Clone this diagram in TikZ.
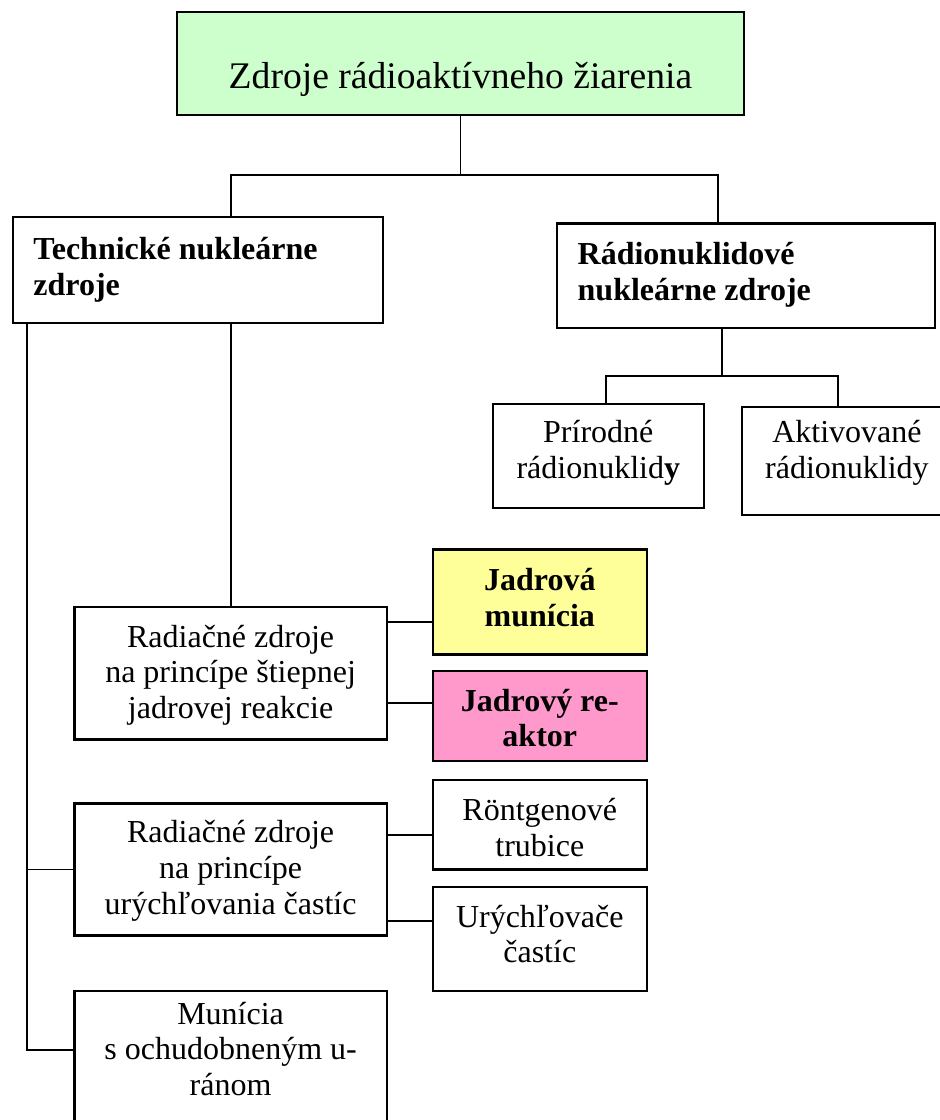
\documentclass[tikz,border=0pt]{standalone}
\usepackage{fontspec}
\setmainfont{Liberation Serif}
\definecolor{mint}{HTML}{CCFFCC}
\definecolor{lemon}{HTML}{FFFF99}
\definecolor{rose}{HTML}{FF99CC}
\tikzset{
  box/.style={draw, line width=1.1pt, anchor=north west, inner xsep=4pt, inner ysep=0pt,
    align=flush center, font=\fontsize{16}{17.8}\selectfont},
  head/.style={box, inner xsep=10.3pt, align=flush left, font=\fontsize{16}{17.8}\selectfont\bfseries},
  link/.style={line width=0.9pt},
}
\begin{document}
\begin{tikzpicture}[x=0.5pt,y=-0.5pt]
	\useasboundingbox (0,0) rectangle (940,1120);
	\clip (0,0) rectangle (940,1120);
	% top level
	\node[box, fill=mint, text width=275.7pt, text height=38.5pt, text depth=13.2pt,
	      font=\fontsize{18.8}{22}\selectfont] (root) at (175.7,10.7) {Zdroje rádioaktívneho žiarenia};
	\node[head, text width=164.4pt, text height=21.15pt, text depth=31.7pt] (tech) at (11.7,216) {Technické nukleárne zdroje};
	\node[head, text width=168.45pt, text height=20.5pt, text depth=31.7pt] (radio) at (556,222.3) {Rádionuklidové\\nukleárne zdroje};
	% radionuclide sources
	\node[box, text width=97.5pt, text height=19.5pt, text depth=32.5pt] (prir) at (491.7,402.7) {Prírodné\\rádionuklid\textbf{y}};
	\node[box, text width=96.8pt, text height=17.85pt, text depth=36.15pt] (aktiv) at (741,406) {Aktivované\\rádionuklidy};
	% technical sources
	\node[box, text width=148.2pt, text height=20pt, text depth=46.15pt] (stiep) at (73.3,606) {Radiačné zdroje\\na princípe štiepnej\\jadrovej reakcie};
	\node[box, fill=lemon, text width=99pt, text height=20.5pt, text depth=32pt, font=\fontsize{16}{17.8}\selectfont\bfseries] (munic) at (431.7,548.3) {Jadrová\\munícia};
	\node[box, fill=rose, text width=99pt, text height=20pt, text depth=25pt, font=\fontsize{16}{17.8}\selectfont\bfseries] (reaktor) at (431.7,670) {Jadrový re-\\aktor};
	\node[box, text width=148.2pt, text height=19.7pt, text depth=46.3pt] (urych) at (73.3,802.3) {Radiačné zdroje\\na princípe\\urýchľovania častíc};
	\node[box, text width=99pt, text height=20.15pt, text depth=24.5pt] (rtg) at (431.7,779) {Röntgenové\\trubice};
	\node[box, text width=99pt, text height=20pt, text depth=32pt] (akcel) at (431.7,886) {Urýchľovače\\častíc};
	\node[box, text width=148.2pt, text height=16.5pt, text depth=53.5pt] (ochud) at (73.3,990) {Munícia\\s ochudobneným u-\\ránom};

	% connectors
	\coordinate (busL) at (231,175);
	\coordinate (busR) at (718.3,175);
	\draw[link] (root.south) -- (root.south |- busL);
	\draw[link] (tech.north -| busL) -- (busL) -- (busR) -- (radio.north -| busR);
	\coordinate (subL) at (605.7,376);
	\coordinate (subM) at (721.7,376);
	\coordinate (subR) at (837.7,376);
	\draw[link] (radio.south -| subM) -- (subM);
	\draw[link] (prir.north -| subL) -- (subL) -- (subR) -- (aktiv.north -| subR);
	\coordinate (trunk) at (27,1050);
	\draw[link] (tech.south -| trunk) -- (trunk) -- (ochud.west |- trunk);
	\draw[link] (urych.west -| trunk) -- (urych.west);
	\draw[link] (tech.south -| stiep.north) -- (stiep.north);
	\coordinate (j1) at (408,621.7);
	\coordinate (j2) at (408,702.7);
	\coordinate (j3) at (408,835);
	\coordinate (j4) at (408,921);
	\draw[link] (stiep.east |- j1) -- (munic.west |- j1);
	\draw[link] (stiep.east |- j2) -- (reaktor.west |- j2);
	\draw[link] (urych.east |- j3) -- (rtg.west |- j3);
	\draw[link] (urych.east |- j4) -- (akcel.west |- j4);
\end{tikzpicture}
\end{document}
